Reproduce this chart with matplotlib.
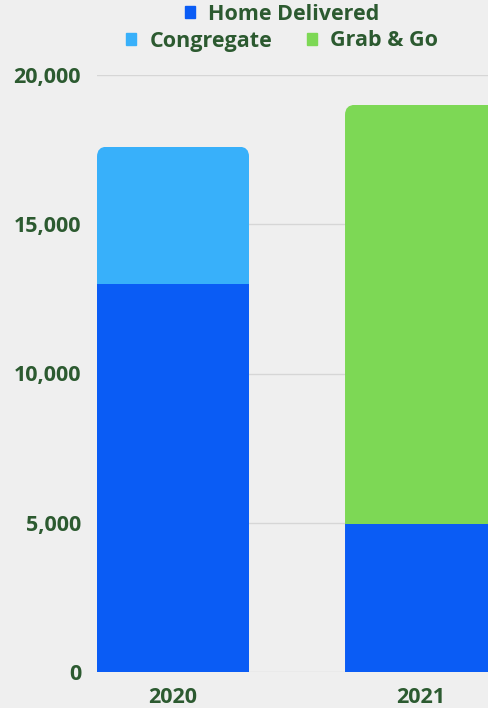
import matplotlib.pyplot as plt
from matplotlib.patches import FancyBboxPatch, Patch

# Meals served per year, by service type
years = ["2020", "2021"]
home_delivered = [13000, 4950]
congregate = [4600, 0]
grab_and_go = [0, 14050]

yticks = [0, 5000, 10000, 15000, 20000]

plt.rcParams["font.family"] = ["Open Sans", "DejaVu Sans"]
plt.rcParams["font.weight"] = "bold"

text_color = "#2c5a30"
c_home = "#0a5cf5"
c_cong = "#38b0fa"
c_grab = "#7dd855"
bg = "#efefef"

W, H = 489, 708
fig = plt.figure(figsize=(W / 100, H / 100), dpi=100, facecolor=bg)
ax = fig.add_axes([97 / W, 36 / H, (W - 97) / W, (672 - 75) / H])
ax.set_facecolor(bg)

x = [0, 1]
width = 0.613
b1 = ax.bar(x, home_delivered, width, color=c_home, zorder=3)
b2 = ax.bar(x, congregate, width, bottom=home_delivered, color=c_cong, zorder=3)
bottom3 = [h + c for h, c in zip(home_delivered, congregate)]
b3 = ax.bar(x, grab_and_go, width, bottom=bottom3, color=c_grab, zorder=3)

ax.set_xlim(-width / 2, 1.274)
ax.set_ylim(0, 20000)

# round the top corners of each stacked column (radius given in pixels)
totals = [h + c + g for h, c, g in zip(home_delivered, congregate, grab_and_go)]
px_x = 248.0            # pixels per x unit
px_y = 597.0 / 20000    # pixels per y unit
radius = 10
for i, xi in enumerate(x):
    clip = FancyBboxPatch((xi - width / 2, -2000), width, totals[i] + 2000,
                          boxstyle=f"round,pad=0,rounding_size={radius / px_x}",
                          mutation_aspect=px_x / px_y,
                          transform=ax.transData, facecolor="none", edgecolor="none")
    ax.add_patch(clip)
    clip.set_visible(False)
    for cont in (b1, b2, b3):
        cont[i].set_clip_path(clip)

ax.set_yticks(yticks)
ax.set_yticklabels([f"{v:,}" for v in yticks])
ax.set_xticks(x)
ax.set_xticklabels(years)
ax.tick_params(axis="both", length=0, labelsize=15.5, colors=text_color)
ax.tick_params(axis="y", pad=11.5)
ax.tick_params(axis="x", pad=10.5)

ax.grid(axis="y", color="#d6d6d6", linewidth=1, zorder=0)
for s in ax.spines.values():
    s.set_visible(False)

leg_kw = dict(frameon=False, fontsize=15.5, labelcolor=text_color,
              handlelength=0.5, handleheight=0.5, handletextpad=0.6,
              borderaxespad=0, borderpad=0)
fig.legend(handles=[Patch(color=c_home, label="Home Delivered")],
           loc="center", bbox_to_anchor=(282 / W, 1 - 14 / H), **leg_kw)
fig.legend(handles=[Patch(color=c_cong, label="Congregate"),
                    Patch(color=c_grab, label="Grab & Go")],
           loc="center", ncol=2, columnspacing=1.6,
           bbox_to_anchor=(282 / W, 1 - 41 / H), **leg_kw)

fig.savefig("out.png", dpi=100, facecolor=bg)
